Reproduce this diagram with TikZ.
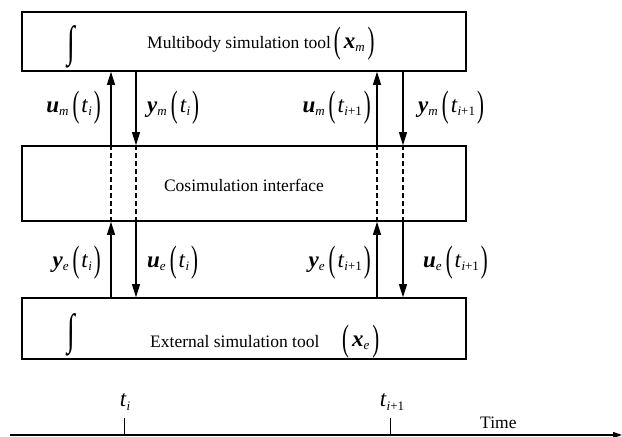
\documentclass[tikz,border=0pt]{standalone}
\usepackage{fontspec}
\setmainfont{Liberation Serif}
\usetikzlibrary{arrows.meta}
\newcommand{\vb}[1]{\textbf{\textit{#1}}}
\newcommand{\subs}[1]{\raisebox{-0.3ex}{\fontsize{13}{13}\selectfont #1}}
\newcommand{\bpar}[1]{\raisebox{-0.4ex}{\scalebox{0.9}[1.6]{#1}}}
\newcommand{\sig}[3]{\vb{#1}\subs{\textit{#2}}\hspace{4pt}\bpar{(}\hspace{2pt}\textit{t}\subs{#3}\hspace{2pt}\bpar{)}}
\newcommand{\integ}{{\fontsize{28}{28}\selectfont\scalebox{1}[1.55]{∫}}}
\begin{document}
\begin{tikzpicture}[x=1pt,y=-1pt,
  blk/.style={draw,line width=1.6pt,minimum width=444pt,inner sep=0pt},
  sigarrow/.style={line width=1.1pt,-{Triangle[length=13pt,width=8pt]}},
  dashline/.style={line width=1.1pt,dashed,dash pattern=on 5pt off 3pt},
  lbl/.style={font=\fontsize{23}{26}\selectfont,inner sep=0pt},
  txt/.style={font=\fontsize{17.5}{20}\selectfont,inner sep=0pt}]
\useasboundingbox (0,0) rectangle (622,437);
% boxes
\node[blk,minimum height=59pt] (top) at (244,41.5) {};
\node[blk,minimum height=75pt] (mid) at (244,183.5) {};
\node[blk,minimum height=61pt] (bot) at (244,328.5) {};
% texts in boxes
\node[inner sep=0pt] (int1) at (71,47) {\integ};
\node[txt,anchor=west] (ttop) at (147,44) {Multibody simulation tool\,{\fontsize{23}{26}\selectfont\bpar{(}\hspace{3pt}\vb{x}\subs{\textit{m}}\hspace{3pt}\bpar{)}}};
\node[txt] (tmid) at (244,185) {Cosimulation interface};
\node[inner sep=0pt] (int2) at (71,335) {\integ};
\node[txt,anchor=west] (tbot) at (150,342) {External simulation tool};
\node[lbl,anchor=west] (xe) at (342,342) {\bpar{(}\hspace{3pt}\vb{x}\subs{\textit{e}}\hspace{3pt}\bpar{)}};
% connector x positions
\coordinate (c1) at (111,0);
\coordinate (c2) at (136,0);
\coordinate (c3) at (377,0);
\coordinate (c4) at (403,0);
% upper arrows
\draw[sigarrow] (mid.north -| c1) -- (top.south -| c1);
\draw[sigarrow] (top.south -| c2) -- (mid.north -| c2);
\draw[sigarrow] (mid.north -| c3) -- (top.south -| c3);
\draw[sigarrow] (top.south -| c4) -- (mid.north -| c4);
% dashed through interface
\draw[dashline] (mid.north -| c1) -- (mid.south -| c1);
\draw[dashline] (mid.north -| c2) -- (mid.south -| c2);
\draw[dashline] (mid.north -| c3) -- (mid.south -| c3);
\draw[dashline] (mid.north -| c4) -- (mid.south -| c4);
% lower arrows
\draw[sigarrow] (bot.north -| c1) -- (mid.south -| c1);
\draw[sigarrow] (mid.south -| c2) -- (bot.north -| c2);
\draw[sigarrow] (bot.north -| c3) -- (mid.south -| c3);
\draw[sigarrow] (mid.south -| c4) -- (bot.north -| c4);
% labels
\node[lbl,anchor=east] (l1) at (101,108) {\sig{u}{m}{\textit{i}}};
\node[lbl,anchor=west] (l2) at (147,108) {\sig{y}{m}{\textit{i}}};
\node[lbl,anchor=east] (l3) at (371,108) {\sig{u}{m}{\textit{i}+1}};
\node[lbl,anchor=west] (l4) at (418,108) {\sig{y}{m}{\textit{i}+1}};
\node[lbl,anchor=east] (l5) at (101,263) {\sig{y}{e}{\textit{i}}};
\node[lbl,anchor=west] (l6) at (147,263) {\sig{u}{e}{\textit{i}}};
\node[lbl,anchor=east] (l7) at (371,263) {\sig{y}{e}{\textit{i}+1}};
\node[lbl,anchor=west] (l8) at (423,263) {\sig{u}{e}{\textit{i}+1}};
% time axis
\coordinate (ax0) at (10,435);
\coordinate (ax1) at (622,435);
\draw[line width=1.2pt,-{Triangle[length=9pt,width=6pt]}] (ax0) -- (ax1);
\coordinate (k1) at (124,435);
\coordinate (k2) at (390,435);
\draw[line width=1pt] (k1) -- ++(0,-17) coordinate (k1t);
\draw[line width=1pt] (k2) -- ++(0,-17) coordinate (k2t);
\node[lbl] (ti) at (125,402) {\textit{t}\subs{\textit{i}}};
\node[lbl] (ti1) at (392,402) {\textit{t}\subs{\textit{i}+1}};
\node[txt,anchor=south west] (time) at (480,429) {Time};
\end{tikzpicture}
\end{document}
